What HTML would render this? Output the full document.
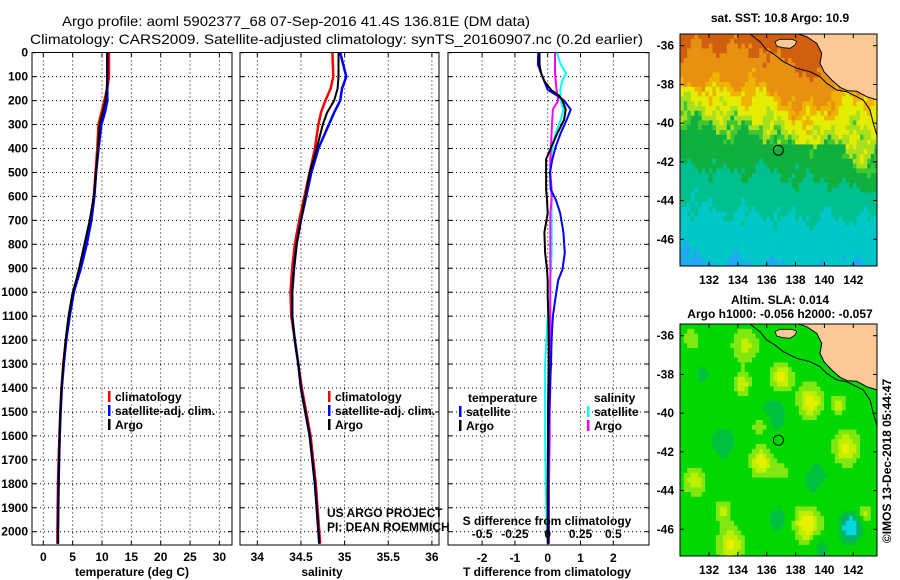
<!DOCTYPE html>
<html><head><meta charset="utf-8"><style>
body{margin:0;background:#fff}
svg{display:block;font-family:"Liberation Sans",sans-serif}
.b{font-weight:bold;font-size:12px}
</style></head><body>
<svg id="c" width="900" height="580" viewBox="0 0 900 580">
<rect width="900" height="580" fill="#fff"/>
<text x="62" y="26" font-size="14" textLength="468" lengthAdjust="spacingAndGlyphs">Argo profile: aoml 5902377_68 07-Sep-2016 41.4S 136.81E (DM data)</text>
<text x="30" y="44" font-size="14" textLength="613" lengthAdjust="spacingAndGlyphs">Climatology: CARS2009. Satellite-adjusted climatology: synTS_20160907.nc (0.2d earlier)</text>
<g id="g"></g>
</svg>
<script>
// ---- data ----
const depthT = [0,100,150,200,250,300,400,500,600,700,800,900,950,1000,1100,1200,1300,1400,1500,1600,1700,1800,1900,2000,2050];
const tempArgo = [10.9,10.9,10.8,10.6,10.1,9.6,9.3,9.0,8.6,7.9,7.0,6.1,5.6,5.0,4.3,3.8,3.4,3.1,2.9,2.8,2.7,2.6,2.55,2.5,2.5];
const tempClim = [11.2,11.2,10.9,10.4,9.9,9.4,9.2,8.9,8.6,8.0,7.1,6.2,5.7,5.1,4.4,3.85,3.4,3.1,2.9,2.75,2.6,2.5,2.45,2.4,2.4];
const tempSat  = [10.9,10.9,10.9,10.9,10.5,9.9,9.4,9.0,8.7,8.2,7.4,6.4,5.8,5.2,4.5,3.9,3.5,3.15,2.95,2.8,2.7,2.6,2.55,2.5,2.5];
const salArgo = [34.93,34.93,34.92,34.88,34.80,34.75,34.68,34.60,34.55,34.50,34.45,34.42,34.41,34.40,34.40,34.43,34.47,34.50,34.55,34.60,34.63,34.66,34.68,34.70,34.71];
const salClim = [34.86,34.87,34.84,34.78,34.73,34.70,34.66,34.60,34.54,34.48,34.43,34.40,34.39,34.38,34.39,34.43,34.47,34.51,34.56,34.61,34.64,34.67,34.69,34.71,34.72];
const salSat  = [34.95,35.02,34.97,34.95,34.88,34.82,34.70,34.62,34.56,34.50,34.45,34.42,34.41,34.40,34.40,34.43,34.47,34.50,34.55,34.60,34.63,34.66,34.68,34.70,34.71];
const depthD = [0,50,85,120,155,180,200,237,280,335,390,445,500,570,615,670,750,835,905,950,1020,1100,1200,1300,1400,1500,1600,1800,2000,2050];
const dTsat  = [-0.29,-0.3,-0.2,-0.1,0.0,0.3,0.5,0.7,0.58,0.4,0.25,0.14,0.07,0.09,0.25,0.38,0.48,0.52,0.45,0.32,0.24,0.16,0.12,0.1,0.07,0.05,0.03,0.02,0.02,0.02];
const dTargo = [-0.25,-0.25,-0.2,-0.1,0.1,0.35,0.45,0.55,0.5,0.3,0.12,-0.05,-0.05,-0.05,-0.02,0.0,-0.1,-0.08,-0.02,0.0,0.0,0.02,0.03,0.03,0.02,0.01,0.01,0.0,0.0,0.0];
const dSsat  = [0.07,0.1,0.14,0.11,0.095,0.1,0.1,0.12,0.1,0.06,0.04,0.02,0.02,0.025,0.03,0.03,0.03,0.03,0.025,0.02,0.02,0.0,-0.01,-0.02,-0.02,-0.02,-0.02,-0.015,-0.005,0.0];
const dSargo = [0.056,0.056,0.056,0.062,0.068,0.075,0.08,0.04,0.035,0.03,0.025,0.02,0.02,0.03,0.03,0.02,0.02,0.02,0.02,0.02,0.02,0.02,0.02,0.02,0.02,0.015,0.015,0.01,0.01,0.01];
const depthTicks = [0,100,200,300,400,500,600,700,800,900,1000,1100,1200,1300,1400,1500,1600,1700,1800,1900,2000];
const tempTicks = [0,5,10,15,20,25,30];
const salTicks = [34,34.5,35,35.5,36];
const dTTicks = [-2,-1,0,1,2];
const dSTicks = [-0.5,-0.25,0,0.25,0.5];
const dSLabels = ['-0.5','-0.25','0','0.25','0.5'];
const latTicks = [-36,-38,-40,-42,-44,-46];
const lonTicks = [132,134,136,138,140,142];
const floatLon = 136.81, floatLat = -41.4;

const NS='http://www.w3.org/2000/svg';
const G=document.getElementById('g');
function el(tag,attrs,parent){const e=document.createElementNS(NS,tag);for(const k in attrs)e.setAttribute(k,attrs[k]);(parent||G).appendChild(e);return e;}
function txt(x,y,s,cls,anchor,parent){const t=el('text',{x:x,y:y,class:cls||'b','text-anchor':anchor||'middle'},parent);t.textContent=s;return t;}

const yD = d => 52.7 + d*0.2395;
const TOP=52.5, BOT=545;
const xT = v => 43.3 + v*5.87;
const xS = v => 257.3 + (v-34)*87.3;
const xDT = v => 547.7 + v*32.8;
const xDS = v => 547.7 + v*4*32.8;

function panel(x0,x1,name,xticks,xf,labels){
  const g=el('g',{});
  
  
  depthTicks.forEach(d=>{ if(d>0) el('line',{x1:x0,x2:x1,y1:yD(d),y2:yD(d),stroke:'#000','stroke-dasharray':'1,3','stroke-width':1},g);
    el('line',{x1:x0,x2:x0+4,y1:yD(d),y2:yD(d),stroke:'#000'},g);el('line',{x1:x1-4,x2:x1,y1:yD(d),y2:yD(d),stroke:'#000'},g);});
  xticks.forEach(v=>{const x=xf(v);el('line',{x1:x,x2:x,y1:TOP,y2:BOT,stroke:'#000','stroke-dasharray':'1,3'},g);
    el('line',{x1:x,x2:x,y1:BOT-4,y2:BOT,stroke:'#000'},g);el('line',{x1:x,x2:x,y1:TOP,y2:TOP+4,stroke:'#000'},g);
    if(labels){const t=txt(x,561,String(v),'b','middle',g);}});
  el('rect',{x:x0,y:TOP,width:x1-x0,height:BOT-TOP,fill:'none',stroke:'#000'},g);
  return g;
}
function line(g,ds,xs,xf,col,name,w){const pts=ds.map((d,i)=>xf(xs[i]).toFixed(1)+','+yD(d).toFixed(1)).join(' ');
  const p=el('polyline',{points:pts,fill:'none',stroke:col,'stroke-width':w||2.5},g);
  
  }
function legend(g,x,y,col,label){el('rect',{x:x,y:y-10,width:2.5,height:11,fill:col},g);txt(x+7,y,label,'b','start',g);}

depthTicks.forEach(d=>{const t=txt(28,yD(d)+4,String(d),'b','end');
  
  });

const p1=panel(32,232,'temperature-panel',tempTicks,xT,true);
line(p1,depthT,tempClim,xT,'#f00','climatology-temp-line');
line(p1,depthT,tempSat,xT,'#00f','satellite-temp-line');
line(p1,depthT,tempArgo,xT,'#000','argo-temp-line',2);
legend(p1,108,401,'#f00','climatology');legend(p1,108,415,'#00f','satellite-adj. clim.');legend(p1,108,429,'#000','Argo');
txt(132,576,'temperature (deg C)','b','middle',p1);

const p2=panel(240,439,'salinity-panel',salTicks,xS,true);
line(p2,depthT,salClim,xS,'#f00','climatology-sal-line');
line(p2,depthT,salSat,xS,'#00f','satellite-sal-line');
line(p2,depthT,salArgo,xS,'#000','argo-sal-line',2);
legend(p2,328,401,'#f00','climatology');legend(p2,328,415,'#00f','satellite-adj. clim.');legend(p2,328,429,'#000','Argo');
txt(322,576,'salinity','b','middle',p2);
const c1=txt(327,517,'US ARGO PROJECT','','start',p2);c1.setAttribute('font-size','12');
const c2=txt(327,531,'PI: DEAN ROEMMICH','','start');c2.setAttribute('font-size','12');

const p3=panel(448,649,'difference-panel',dTTicks,xDT,false);
dTTicks.forEach(v=>txt(xDT(v),562,String(v),'b','middle',p3));
line(p3,depthD,dSsat,xDS,'#0ff','satellite-sal-diff-line',2);
line(p3,depthD,dSargo,xDS,'#f0f','argo-sal-diff-line',2);
line(p3,depthD,dTsat,xDT,'#00f','satellite-temp-diff-line',2);
line(p3,depthD,dTargo,xDT,'#000','argo-temp-diff-line',2);
txt(468,402,'temperature','b','start',p3);
legend(p3,459,416,'#00f','satellite');legend(p3,459,430,'#000','Argo');
txt(594,402,'salinity','b','start',p3);
legend(p3,587,416,'#0ff','satellite');legend(p3,587,430,'#f0f','Argo');
txt(547,525,'S difference from climatology','b','middle',p3);
dSTicks.forEach((v,i)=>txt(xDS(v),538,dSLabels[i],'b','middle',p3));
txt(547,576,'T difference from climatology','b','middle',p3);

// ---- maps ----
const MX0=680,MX1=877;
const xL = lon => 709 + (lon-132)*14.43;
function sstColor(lon,lat){
  let s=-lat-36;
  s -= 1.4*Math.exp(-Math.pow((lon-138.8)/2.2,2))*(lat>-41?1:0.3);
  s -= 2.0*Math.exp(-Math.pow((lon-143)/1.8,2))*Math.exp(-Math.pow((lat+42)/2,2));
  s += 0.5*Math.exp(-Math.pow((lon-130.5)/1.5,2))*(lat<-38?1:0);
  s += 0.4*Math.sin(lon*2.3+lat*1.7)+0.3*Math.sin(lon*5.1-lat*3.3)+0.25*Math.sin(lon*11.3+lat*7.9);
  const cs=[[0.1,'#d06010'],[1.9,'#e89010'],[2.5,'#f0b400'],[3.5,'#e4ec00'],[4.1,'#a8e020'],[4.5,'#40c830'],[6.5,'#10b040'],[8.6,'#00c090'],[11.3,'#00c8c8'],[99,'#20a8f0']];
  for(const c of cs) if(s<c[0]) return c[1];
}
const blobs=[[137,-38.2,0.8,1],[139,-39.4,0.9,1],[134.3,-38.5,0.6,0.8],[135.6,-40.6,0.6,0.8],[135.6,-42.5,0.8,1],[131,-43.5,0.8,0.8],[138.8,-45.7,1,1.1],[133.5,-46.8,1,0.9],[141.5,-41.8,1,0.9],[141,-39.5,0.5,0.8],[130.8,-36.2,0.6,0.6],[134.5,-36.5,1,0.7],[133,-45,0.6,0.7],[137,-43,0.6,0.5],[142.8,-45.2,0.5,0.7],[140,-44,0.5,0.6],
  [136.5,-40,1,-0.8],[139.5,-43.5,1,-0.8],[133,-41.5,1.2,-0.6],[136.8,-45.5,0.8,-0.7],[131.5,-38,0.8,-0.5],[141.8,-45.9,0.7,-2.2],[139.8,-47,0.6,-0.8]];
function slaColor(lon,lat){
  let v=0;blobs.forEach(b=>{v+=b[3]*Math.exp(-(Math.pow(lon-b[0],2)+Math.pow(lat-b[1],2))/(b[2]*b[2]));});
  if(v<-1.4) return '#00d8e0'; if(v<-0.9) return '#00b070'; if(v<-0.4) return '#00c040';
  if(v<0.3) return '#00d800'; if(v<0.6) return '#80e810'; if(v<0.85) return '#c0f000'; return '#e8f000';
}
const coastZ=[[270,102],[300,125],[320,150],[345,165],[370,185],[410,205],[450,215],[480,230],[500,250],[530,270],[560,275],[590,290],[610,300],[630,330],[640,370],[652,410]];
const landZ=[[415,102],[440,110],[470,130],[485,160],[480,190],[492,215],[515,240],[540,262],[562,272],[590,274],[620,290],[652,300],[652,102]];
const islandZ=[[345,125],[360,118],[395,118],[410,124],[405,135],[390,145],[370,143],[350,138]];
function map(y0,name,colFn,cell,title1,title2){
  const g=el('g',{});
  
  
  const yLat = lat => y0+11.7 + (-36-lat)*19.36;
  const H=232;
  for(let x=MX0;x<MX1;x+=cell[0])for(let y=y0;y<y0+H;y+=cell[1]){
    const lon=132+(x+cell[0]/2-709)/14.43, lat=-36-(y+cell[1]/2-y0-11.7)/19.36;
    el('rect',{x:x,y:y,width:Math.min(cell[0]+0.4,MX1-x),height:Math.min(cell[1]+0.4,y0+H-y),fill:colFn(lon,lat)},g);}
  const P=a=>a.map(p=>(660+p[0]/3).toFixed(1)+','+(y0-34+p[1]/3).toFixed(1)).join(' ');
  el('polygon',{points:P(landZ),fill:'#fcc896'},g);
  el('polyline',{points:P(landZ.slice(0,12)),fill:'none',stroke:'#000','stroke-width':1},g);
  el('polygon',{points:P(islandZ),fill:'#fcc896',stroke:'#000','stroke-width':0.8},g);
  el('polyline',{points:P(coastZ),fill:'none',stroke:'#000','stroke-width':1},g);
  const m=el('circle',{cx:xL(floatLon),cy:yLat(floatLat),r:5,fill:'none',stroke:'#000','stroke-width':1},g);
  
  
  el('rect',{x:MX0,y:y0,width:MX1-MX0,height:H,fill:'none',stroke:'#000'},g);
  latTicks.forEach(l=>{const y=yLat(l);el('line',{x1:MX0,x2:MX0+4,y1:y,y2:y,stroke:'#000'},g);el('line',{x1:MX1-4,x2:MX1,y1:y,y2:y,stroke:'#000'},g);txt(674,y+4,String(l),'b','end',g);});
  lonTicks.forEach(l=>{const x=xL(l);el('line',{x1:x,x2:x,y1:y0+H-4,y2:y0+H,stroke:'#000'},g);el('line',{x1:x,x2:x,y1:y0,y2:y0+4,stroke:'#000'},g);txt(x,y0+H+18,String(l),'b','middle',g);});
  if(title2){txt(780,y0-20,title1,'b','middle',g);txt(780,y0-6,title2,'b','middle',g);}
  else txt(780,y0-12,title1,'b','middle',g);
}
map(34,'sst-map',sstColor,[3.6,4.8],'sat. SST: 10.8 Argo: 10.9');
map(324,'sla-map',slaColor,[3.6,4.8],'Altim. SLA: 0.014','Argo h1000: -0.056 h2000: -0.057');
const cr=txt(0,0,'©IMOS 13-Dec-2018 05:44:47','','middle');
cr.setAttribute('font-size','13');
cr.setAttribute('transform','translate(891,461) rotate(-90)');


</script>
</body></html>
